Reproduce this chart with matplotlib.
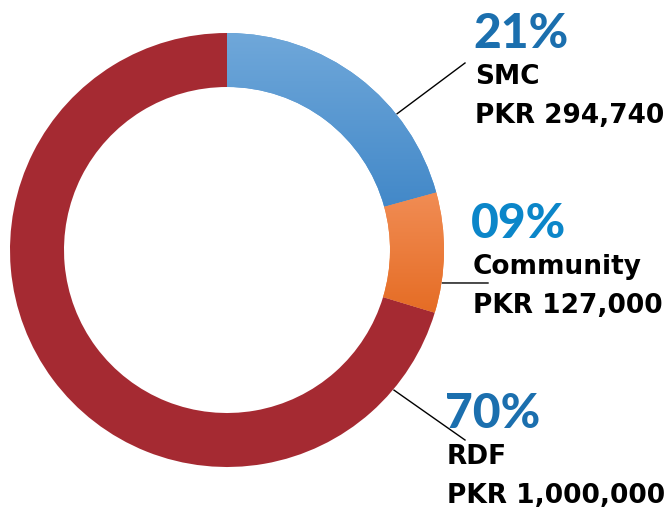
import matplotlib.pyplot as plt
import numpy as np
from matplotlib.colors import LinearSegmentedColormap

# Data
categories = ['SMC', 'Community', 'RDF']
amounts = [294740, 127000, 1000000]
amount_labels = ['PKR 294,740', 'PKR 127,000', 'PKR 1,000,000']

W, H = 665, 508
CX, CY = 227, H - 250
R_OUT = 217
RING = 54

fig = plt.figure(figsize=(W / 100, H / 100), dpi=100)
ax = fig.add_axes([0, 0, 1, 1])
ax.set_xlim(0, W)
ax.set_ylim(0, H)
ax.set_aspect('equal')
ax.axis('off')

wedges, _ = ax.pie(amounts, startangle=90, counterclock=False, radius=R_OUT,
                   center=(CX, CY), colors=['#5b9bd5', '#ef7d32', '#a52a32'],
                   wedgeprops=dict(width=RING, linewidth=0))

# vertical gradients for the blue and orange slices (light top, darker bottom)
grads = {0: ['#70a8da', '#4288c8'], 1: ['#f18d55', '#e56c24']}
for i, (c_top, c_bot) in grads.items():
    w = wedges[i]
    cmap = LinearSegmentedColormap.from_list(f'g{i}', [c_bot, c_top])
    angs = np.radians(np.linspace(w.theta1, w.theta2, 50))
    ys = np.concatenate([CY + R_OUT * np.sin(angs), CY + (R_OUT - RING) * np.sin(angs)])
    xs = np.concatenate([CX + R_OUT * np.cos(angs), CX + (R_OUT - RING) * np.cos(angs)])
    grad = np.linspace(0, 1, 256).reshape(-1, 1)
    im = ax.imshow(grad, cmap=cmap,
                   extent=[xs.min() - 2, xs.max() + 2, ys.min() - 2, ys.max() + 2],
                   origin='lower', aspect='auto', zorder=2)
    im.set_clip_path(w)

ax.set_xlim(0, W)
ax.set_ylim(0, H)

# labels
total = sum(amounts)
pct_colors = ['#1b6fae', '#0b86c9', '#1b6fae']
label_x = [475, 473, 447]
label_base = [48, 238, 428]
leader_ang = [38.7, -8.7, -40.0]
leader_end = [(465, 63), (488, 283), (465, 440)]

for i, cat in enumerate(categories):
    pct = round(amounts[i] / total * 100)
    x = label_x[i]
    yb = label_base[i]
    ax.text(x - 2, H - yb, f'{pct:02d}%', fontsize=34.5, fontweight=900,
            family=['Lato', 'DejaVu Sans'],
            color=pct_colors[i], ha='left', va='baseline')
    ax.text(x, H - yb - 36, cat, fontsize=19, fontweight='bold',
            color='black', ha='left', va='baseline')
    ax.text(x, H - yb - 75, amount_labels[i], fontsize=19, fontweight='bold',
            color='black', ha='left', va='baseline')
    a = np.radians(leader_ang[i])
    sx = CX + (R_OUT + 1) * np.cos(a)
    sy = CY + (R_OUT + 1) * np.sin(a)
    ex, ey = leader_end[i]
    ax.plot([sx, ex], [sy, H - ey], color='black', linewidth=1, zorder=3)

plt.savefig('out.png', dpi=100)
